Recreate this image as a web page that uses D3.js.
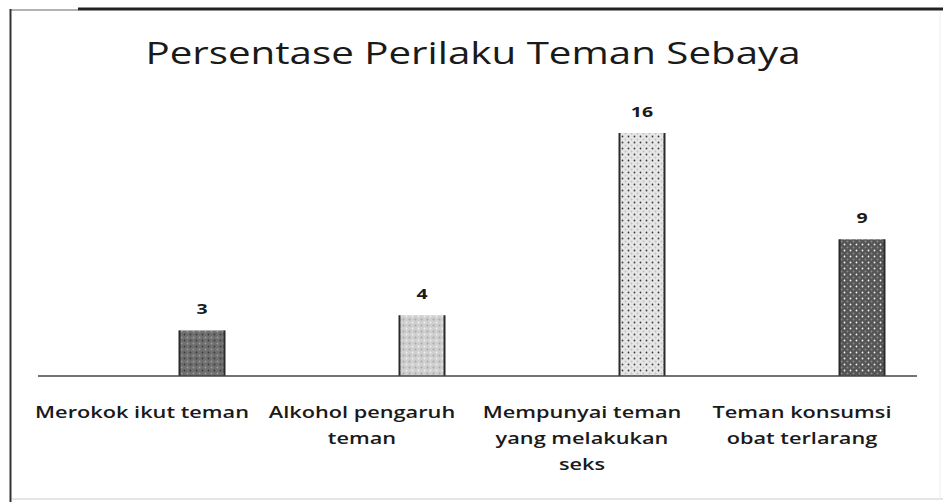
<!DOCTYPE html>
<html lang="id">
<head>
    <meta charset="utf-8">
    <title>Persentase Perilaku Teman Sebaya</title>
    <script type="text/javascript" src="https://d3js.org/d3.v7.min.js"></script>
    <style type="text/css">
        body { margin: 0; background: #fff; }
        text { font-family: "Open Sans", "Noto Sans", sans-serif; fill: #1a1a1a; }
    </style>
</head>
<body>
    <script type="text/javascript">

        const categories = [
            ["Merokok ikut teman"],
            ["Alkohol pengaruh", "teman"],
            ["Mempunyai teman", "yang melakukan", "seks"],
            ["Teman konsumsi", "obat terlarang"]
        ];
        const values = [3, 4, 16, 9];
        const barColors = ["#6f6f6f", "#cfcfcf", "#e6e6e6", "#555555"];
        const dotColors = ["#9a9a9a", "#a8a8a8", "#c2c2c2", "#8a8a8a"];

        const width = 943;
        const height = 502;
        const baseY = 376;
        const stretch = 1.3; // the scanned chart is wider than it is tall

        const svg = d3.select("body")
                    .append("svg")
                    .attr("width", width)
                    .attr("height", height);

        // frame
        svg.append("line").attr("x1", 10).attr("x2", 78).attr("y1", 10).attr("y2", 10)
            .attr("stroke", "#999").attr("stroke-width", 1.5);
        svg.append("line").attr("x1", 78).attr("x2", 943).attr("y1", 9).attr("y2", 9)
            .attr("stroke", "#222").attr("stroke-width", 3);
        svg.append("line").attr("x1", 10.5).attr("x2", 10.5).attr("y1", 9).attr("y2", 502)
            .attr("stroke", "#333").attr("stroke-width", 2);
        svg.append("line").attr("x1", 12).attr("x2", 943).attr("y1", 499).attr("y2", 499)
            .attr("stroke", "#ddd").attr("stroke-width", 1.5);
        svg.append("line").attr("x1", 940).attr("x2", 940).attr("y1", 12).attr("y2", 499)
            .attr("stroke", "#eee").attr("stroke-width", 1);

        // patterns for textured bars
        const defs = svg.append("defs");
        barColors.forEach((c, i) => {
            const p = defs.append("pattern")
                .attr("id", "tex" + i)
                .attr("patternUnits", "userSpaceOnUse")
                .attr("width", 6).attr("height", 6);
            p.append("rect").attr("width", 6).attr("height", 6).attr("fill", c);
            p.append("circle").attr("cx", 1.5).attr("cy", 1.5).attr("r", 1).attr("fill", dotColors[i]);
            p.append("circle").attr("cx", 4.5).attr("cy", 4.5).attr("r", 0.9).attr("fill", i % 2 ? "#f2f2f2" : "#3a3a3a");
        });

        // Scales
        const xScale = d3.scaleBand()
                        .domain(d3.range(categories.length))
                        .range([32, 912]);

        const yScale = d3.scaleLinear()
                        .domain([0, 16])
                        .range([baseY, 133]);

        const barOffset = 60;
        const barW = 45;

        // Bars
        svg.selectAll("rect.bar")
            .data(values)
            .enter()
            .append("rect")
            .attr("class", "bar")
            .attr("x", (d, i) => xScale(i) + xScale.bandwidth() / 2 + barOffset - barW / 2)
            .attr("y", d => yScale(d))
            .attr("width", barW)
            .attr("height", d => baseY - yScale(d))
            .attr("fill", (d, i) => "url(#tex" + i + ")");

        // dark bar edges
        values.forEach((d, i) => {
            const x0 = xScale(i) + xScale.bandwidth() / 2 + barOffset - barW / 2;
            [x0, x0 + barW].forEach(x => {
                svg.append("line").attr("x1", x).attr("x2", x)
                    .attr("y1", yScale(d)).attr("y2", baseY)
                    .attr("stroke", "#2a2a2a").attr("stroke-width", 2);
            });
        });

        // axis
        svg.append("line").attr("x1", 38).attr("x2", 917).attr("y1", baseY).attr("y2", baseY)
            .attr("stroke", "#444").attr("stroke-width", 1.5);

        // value labels
        svg.selectAll("text.val")
            .data(values)
            .enter()
            .append("text")
            .attr("class", "val")
            .attr("transform", (d, i) => `translate(${xScale(i) + xScale.bandwidth() / 2 + barOffset},${yScale(d) - 16}) scale(${stretch},1)`)
            .attr("text-anchor", "middle")
            .attr("font-size", 15)
            .attr("font-weight", "bold")
            .text(d => d);

        // category labels
        categories.forEach((lines, i) => {
            const t = svg.append("text")
                .attr("transform", `translate(${xScale(i) + xScale.bandwidth() / 2},418) scale(1.36,1)`)
                .attr("text-anchor", "middle")
                .attr("font-size", 16)
                .attr("font-weight", 600);
            lines.forEach((l, j) => {
                t.append("tspan")
                    .attr("x", 0)
                    .attr("dy", j === 0 ? 0 : 26)
                    .text(l);
            });
        });

        // title
        svg.append("text")
            .attr("transform", `translate(473,64) scale(${stretch},1)`)
            .attr("text-anchor", "middle")
            .attr("font-size", 31)
            .text("Persentase Perilaku Teman Sebaya");
    </script>
</body>
</html>
